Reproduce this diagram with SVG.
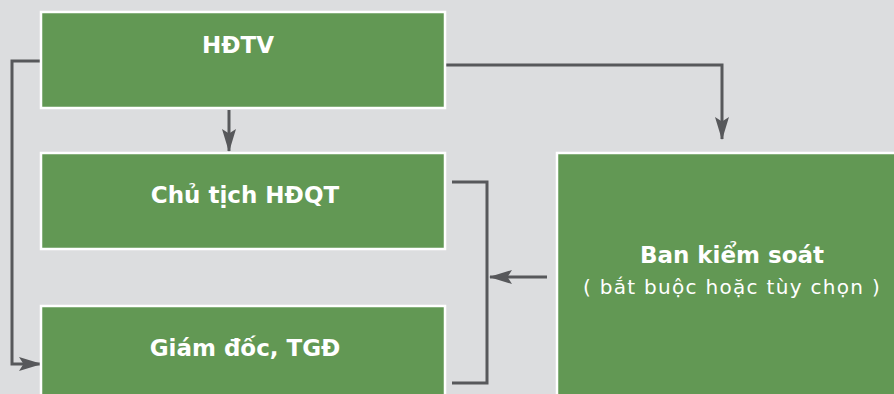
<svg xmlns="http://www.w3.org/2000/svg" width="894" height="394" viewBox="0 0 894 394">
  <style>
    .box { fill: #629854; stroke: #ffffff; stroke-width: 2.5; }
    .title { fill: #ffffff; font-family: "DejaVu Sans", "Liberation Sans", sans-serif; font-weight: bold; font-size: 23px; text-anchor: middle; }
    .sub { fill: #ffffff; font-family: "DejaVu Sans", "Liberation Sans", sans-serif; font-weight: normal; font-size: 20px; letter-spacing: 1.3px; text-anchor: middle; }
    .wire { fill: none; stroke: #57585b; stroke-width: 3; }
  </style>
  <defs>
    <marker id="arrow" viewBox="0 0 23 15" refX="22" refY="7.5" markerWidth="23" markerHeight="15" markerUnits="userSpaceOnUse" orient="auto">
      <path d="M0,0.5 L23,7.5 L0,14.5 L4.5,7.5 Z" fill="#57585b"/>
    </marker>
  </defs>

  <rect width="894" height="394" fill="#dcdddf"/>

  <g id="connectors">
    <!-- HĐTV down to Chủ tịch HĐQT -->
    <path class="wire" d="M229,110 V151" marker-end="url(#arrow)"/>
    <!-- HĐTV across to Ban kiểm soát -->
    <path class="wire" d="M446,65 H722 V139" marker-end="url(#arrow)"/>
    <!-- HĐTV around the left side to Giám đốc, TGĐ -->
    <path class="wire" d="M40,61 H12 V364 H41" marker-end="url(#arrow)"/>
    <!-- bracket joining Chủ tịch HĐQT and Giám đốc, TGĐ -->
    <path class="wire" d="M452,182 H487 V383 H452"/>
    <!-- Ban kiểm soát back to the bracket -->
    <path class="wire" d="M547,277 H490" marker-end="url(#arrow)"/>
  </g>

  <g id="hdtv">
    <rect class="box" x="41" y="12" width="404" height="96"/>
    <text class="title" x="238" y="53">HĐTV</text>
  </g>

  <g id="chu-tich-hdqt">
    <rect class="box" x="41" y="153" width="404" height="96"/>
    <text class="title" x="245" y="203">Chủ tịch HĐQT</text>
  </g>

  <g id="giam-doc-tgd">
    <rect class="box" x="41" y="306" width="404" height="100"/>
    <text class="title" x="245" y="356">Giám đốc, TGĐ</text>
  </g>

  <g id="ban-kiem-soat">
    <rect class="box" x="557" y="153" width="350" height="260"/>
    <text class="title" x="732" y="263">Ban kiểm soát</text>
    <text class="sub" x="732" y="294">( bắt buộc hoặc tùy chọn )</text>
  </g>
</svg>
